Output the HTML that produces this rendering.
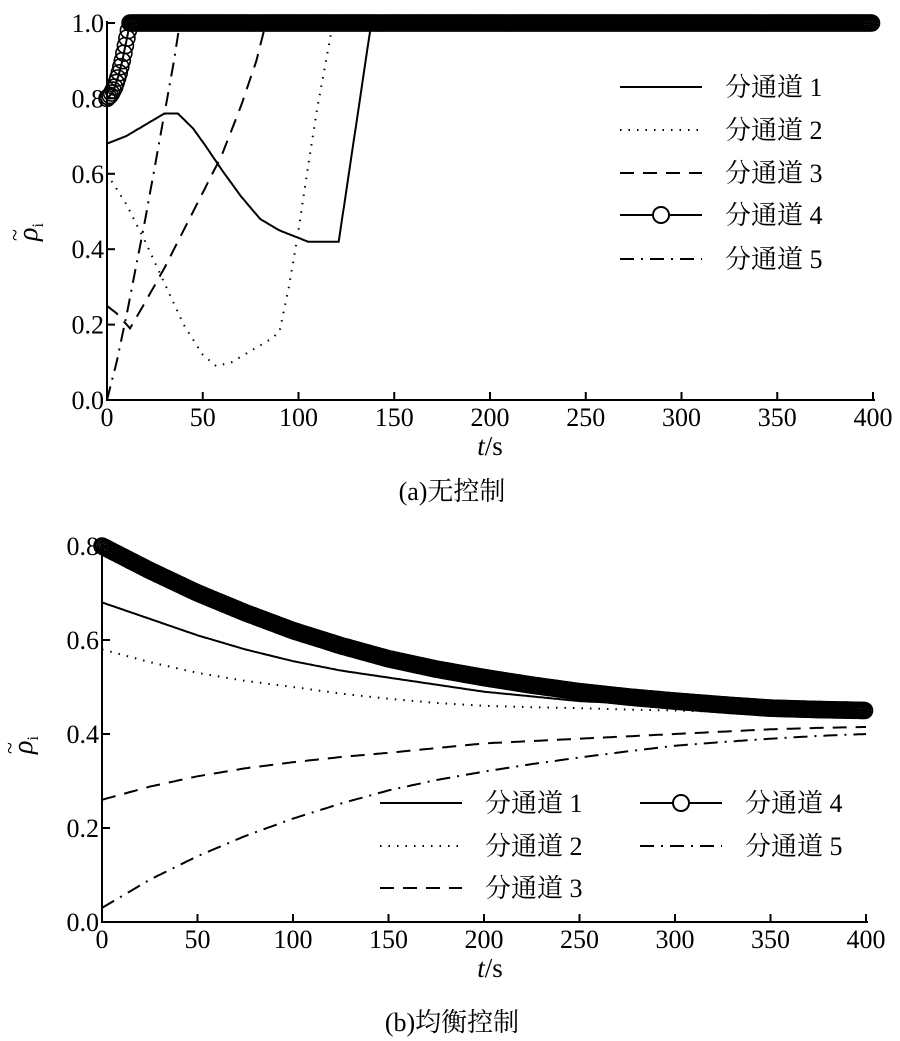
<!DOCTYPE html>
<html><head><meta charset="utf-8">
<style>
html,body{margin:0;padding:0;background:#fff;}
svg{display:block;font-family:"Liberation Serif","Noto Serif CJK SC",serif;}
</style></head>
<body>
<svg id="fig" width="900" height="1041" viewBox="0 0 900 1041" xmlns="http://www.w3.org/2000/svg"></svg>
<script>
// ---- Chart (a) data ----
const aT1 = [0, 10, 20, 30, 37, 45, 52, 60, 70, 80, 90, 100, 105, 121, 138, 400];
const aV1 = [0.68, 0.70, 0.73, 0.76, 0.76, 0.72, 0.67, 0.61, 0.54, 0.48, 0.45, 0.43, 0.42, 0.42, 1.0, 1.0];
const aT2 = [0, 10, 20, 30, 40, 50, 57, 65, 75, 85, 90, 95, 100, 105, 110, 118, 400];
const aV2 = [0.60, 0.52, 0.42, 0.31, 0.20, 0.12, 0.09, 0.10, 0.13, 0.16, 0.18, 0.30, 0.45, 0.62, 0.78, 1.0, 1.0];
const aT3 = [0, 5, 12, 20, 30, 40, 50, 60, 70, 78, 83, 400];
const aV3 = [0.25, 0.23, 0.19, 0.26, 0.35, 0.45, 0.55, 0.65, 0.78, 0.90, 1.0, 1.0];
const aT5 = [0, 5, 10, 15, 20, 25, 30, 35, 38, 400];
const aV5 = [0.0, 0.10, 0.22, 0.35, 0.48, 0.62, 0.76, 0.90, 1.0, 1.0];
const aT4 = [0, 2, 4, 6, 8, 10, 12, 400];
const aV4 = [0.80, 0.81, 0.83, 0.86, 0.90, 0.95, 1.0, 1.0];
// ---- Chart (b) data ----
const bT = [0, 25, 50, 75, 100, 125, 150, 175, 200, 225, 250, 275, 300, 325, 350, 375, 400];
const bV1 = [0.68, 0.645, 0.61, 0.58, 0.555, 0.535, 0.52, 0.505, 0.49, 0.48, 0.47, 0.465, 0.46, 0.455, 0.45, 0.447, 0.445];
const bV2 = [0.58, 0.553, 0.53, 0.513, 0.50, 0.486, 0.475, 0.466, 0.46, 0.457, 0.455, 0.452, 0.45, 0.447, 0.445, 0.442, 0.44];
const bV3 = [0.26, 0.288, 0.31, 0.327, 0.34, 0.351, 0.36, 0.37, 0.38, 0.385, 0.39, 0.395, 0.40, 0.405, 0.41, 0.413, 0.415];
const bV4 = [0.80, 0.748, 0.70, 0.658, 0.62, 0.588, 0.56, 0.538, 0.52, 0.504, 0.49, 0.479, 0.47, 0.462, 0.455, 0.452, 0.45];
const bV5 = [0.03, 0.09, 0.14, 0.183, 0.22, 0.252, 0.28, 0.302, 0.32, 0.336, 0.35, 0.363, 0.375, 0.383, 0.39, 0.396, 0.40];
const xTicks = [0, 50, 100, 150, 200, 250, 300, 350, 400];
const aYTicks = [0.0, 0.2, 0.4, 0.6, 0.8, 1.0];
const bYTicks = [0.0, 0.2, 0.4, 0.6, 0.8];
const legendLabels = ["分通道 1", "分通道 2", "分通道 3", "分通道 4", "分通道 5"];

const NS = "http://www.w3.org/2000/svg";
const svg = document.getElementById("fig");
function mk(tag, attrs, parent) {
  const e = document.createElementNS(NS, tag);
  for (const k in attrs) e.setAttribute(k, attrs[k]);
  (parent || svg).appendChild(e);
  return e;
}
const styles = [
  {dash: "none"},
  {dash: "1.5 7"},
  {dash: "14 9"},
  {dash: "none"},
  {dash: "14 7 2 7"}
];
function interp(ts, vs, t) {
  for (let i = 0; i < ts.length - 1; i++) {
    if (t >= ts[i] && t <= ts[i + 1]) {
      return vs[i] + (vs[i + 1] - vs[i]) * (t - ts[i]) / (ts[i + 1] - ts[i]);
    }
  }
  return vs[vs.length - 1];
}
function makeChart(cfg) {
  const g = mk("g", {});
  
  
  const X = t => cfg.x0 + (t / 400) * (cfg.x1 - cfg.x0);
  const Y = v => cfg.y0 - (v / cfg.vmax) * (cfg.y0 - cfg.y1);
  cfg.series.forEach((s, si) => {
    if (si === 3) return;
    const pts = [];
    for (let t = 0; t <= 400; t += 1) pts.push(X(t).toFixed(1) + "," + Y(interp(s.t, s.v, t)).toFixed(1));
    const p = mk("polyline", {points: pts.join(" "), fill: "none", stroke: "#000", "stroke-width": 2, "stroke-dasharray": styles[si].dash}, g);
    
    
  });
  const s4 = cfg.series[3];
  const pts4 = [];
  for (let t = 0; t <= 400; t += 1) pts4.push(X(t).toFixed(1) + "," + Y(interp(s4.t, s4.v, t)).toFixed(1));
  const l4 = mk("polyline", {points: pts4.join(" "), fill: "none", stroke: "#000", "stroke-width": 2}, g);
  
  
  const mg = mk("g", {}, g);
  
  
  for (let t = 0; t <= 400; t += cfg.mstep) {
    const c = mk("circle", {cx: X(t).toFixed(1), cy: Y(interp(s4.t, s4.v, t)).toFixed(1), r: 8, fill: "none", stroke: "#000", "stroke-width": 1.6}, mg);
    
    
  }
  const ax = mk("path", {d: `M${cfg.x0},${cfg.y1 - 2} V${cfg.y0} H${cfg.x1 + 2}`, fill: "none", stroke: "#000", "stroke-width": 2}, g);
  
  
  xTicks.forEach(t => {
    const tk = mk("line", {x1: X(t), x2: X(t), y1: cfg.y0, y2: cfg.y0 - 8, stroke: "#000", "stroke-width": 2}, g);
    
    
    const tx = mk("text", {x: X(t), y: cfg.y0 + 26, "text-anchor": "middle", "font-size": 26}, g);
    tx.textContent = t;
    
    
  });
  cfg.yTicks.forEach(v => {
    const tk = mk("line", {x1: cfg.x0, x2: cfg.x0 + 8, y1: Y(v), y2: Y(v), stroke: "#000", "stroke-width": 2}, g);
    
    
    const tx = mk("text", {x: cfg.x0 - 3, y: Y(v) + 9, "text-anchor": "end", "font-size": 26}, g);
    tx.textContent = v.toFixed(1);
    
    
  });
  const yt = mk("text", {transform: `translate(${cfg.x0 - 70},${cfg.ytY}) rotate(-90)`, "text-anchor": "middle", "font-size": 28}, g);
  yt.innerHTML = '<tspan font-style="italic">ρ</tspan><tspan font-size="16" dy="6">i</tspan>';
  
  
  const tl = mk("text", {transform: `translate(${cfg.x0 - 85},${cfg.ytY + 3}) rotate(-90)`, "text-anchor": "middle", "font-size": 22}, g);
  tl.textContent = "~";
  
  
  const xt = mk("text", {x: cfg.xtX, y: cfg.y0 + 55, "text-anchor": "middle", "font-size": 27}, g);
  xt.innerHTML = '<tspan font-style="italic">t</tspan>/s';
  
  
  const cap = mk("text", {x: cfg.capX, y: cfg.capY, "text-anchor": "middle", "font-size": 26}, g);
  cap.textContent = cfg.caption;
  
  
  const lg = mk("g", {}, g);
  
  
  cfg.legend.forEach((pos, i) => {
    const eg = mk("g", {}, lg);
    
    
    mk("line", {x1: pos[0], x2: pos[0] + 82, y1: pos[1], y2: pos[1], stroke: "#000", "stroke-width": 2, "stroke-dasharray": styles[i].dash}, eg);
    if (i === 3) mk("circle", {cx: pos[0] + 41, cy: pos[1], r: 8, fill: "#fff", stroke: "#000", "stroke-width": 2}, eg);
    const t = mk("text", {x: pos[0] + 105, y: pos[1] + 9, "font-size": 26}, eg);
    t.textContent = legendLabels[i];
  });
}
makeChart({
  name: "chart-a-no-control", x0: 107, x1: 873, y0: 400, y1: 23, vmax: 1.0, yTicks: aYTicks, mstep: 0.8,
  ytY: 232, xtX: 490, capX: 452, capY: 500, caption: "(a)无控制",
  series: [{t: aT1, v: aV1}, {t: aT2, v: aV2}, {t: aT3, v: aV3}, {t: aT4, v: aV4}, {t: aT5, v: aV5}],
  legend: [[620, 87], [620, 130], [620, 173], [620, 215], [620, 259]]
});
makeChart({
  name: "chart-b-balance-control", x0: 102, x1: 866, y0: 922, y1: 546, vmax: 0.8, yTicks: bYTicks, mstep: 0.8,
  ytY: 745, xtX: 490, capX: 452, capY: 1031, caption: "(b)均衡控制",
  series: [{t: bT, v: bV1}, {t: bT, v: bV2}, {t: bT, v: bV3}, {t: bT, v: bV4}, {t: bT, v: bV5}],
  legend: [[380, 803], [380, 846], [380, 888], [640, 803], [640, 846]]
});
</script>
</body></html>
